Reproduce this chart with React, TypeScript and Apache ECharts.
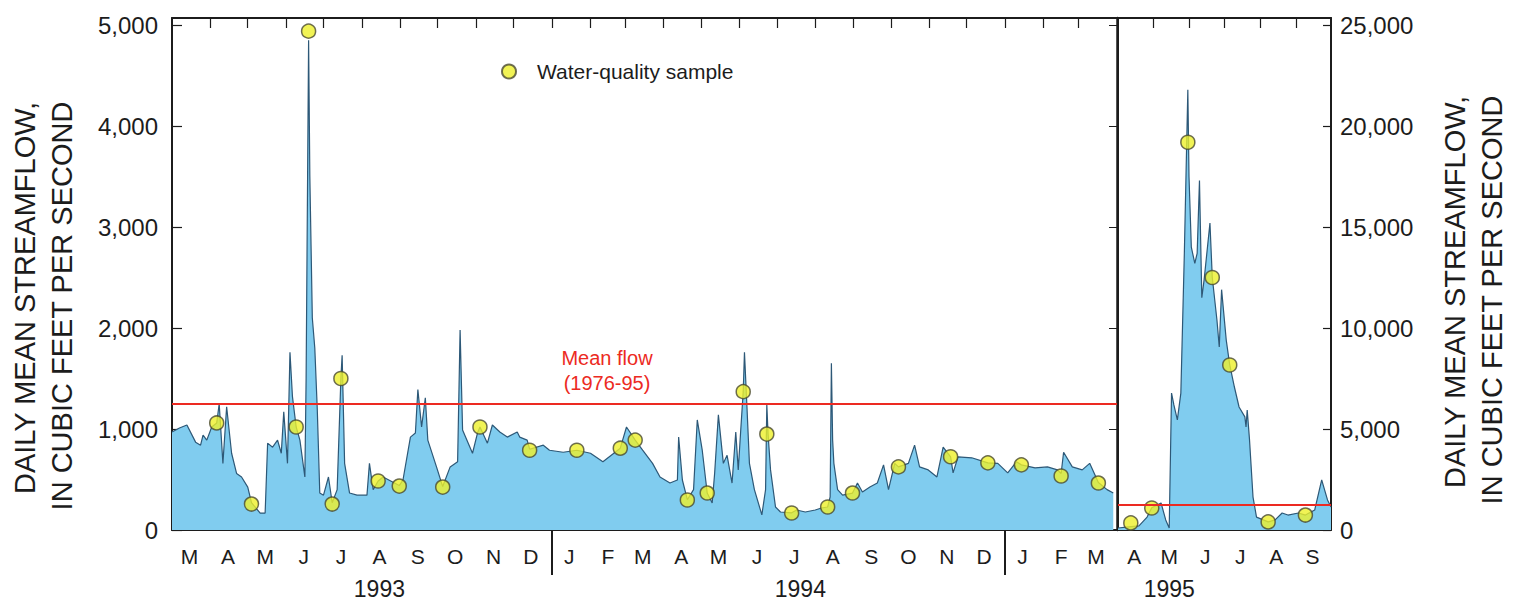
import React, { useEffect, useRef } from "react";
import * as echarts from "echarts";

const DAY = 86400000;
const LEFT_START = Date.UTC(1993, 2, 1);
const LEFT_END = Date.UTC(1995, 3, 1);
const RIGHT_START = Date.UTC(1995, 3, 1);
const RIGHT_END = Date.UTC(1995, 9, 1);

const MONTH_LETTERS = ["J", "F", "M", "A", "M", "J", "J", "A", "S", "O", "N", "D"];
const MEAN_FLOW = 1250;

// Daily mean streamflow, March 1993 – March 1995 (day = days since 1 March 1993, cfs)
const flow9395: [number, number][] = [
  [0, 970], [6, 1010], [12, 1040], [19, 870], [23, 840], [25, 940], [28, 890], [32, 1020], [36, 1060],
  [38, 1250], [41, 660], [44, 1220], [48, 760], [52, 560], [56, 525], [61, 425], [64, 270], [71, 168],
  [75, 168], [77, 860], [81, 820], [85, 890], [88, 760], [90, 1170], [93, 660], [95, 1760], [97, 1320],
  [100, 1020], [103, 890], [107, 525], [108, 1500], [110, 4850], [111, 3500], [113, 2100], [115, 1800],
  [117, 1190], [119, 366], [122, 345], [126, 525], [129, 270], [133, 400], [136, 1500], [137, 1730],
  [139, 660], [143, 366], [149, 345], [157, 345], [159, 660], [162, 400], [166, 485], [170, 525],
  [183, 440], [186, 495], [192, 920], [196, 960], [198, 1390], [201, 1020], [204, 1310], [206, 890],
  [213, 625], [218, 430], [224, 625], [230, 675], [232, 1980], [234, 990], [242, 760], [246, 960],
  [248, 1020], [254, 860], [258, 1040], [264, 970], [270, 920], [278, 970], [280, 920], [286, 890],
  [288, 800], [299, 840], [304, 790], [315, 770], [326, 790], [337, 760], [347, 675], [361, 810],
  [366, 1020], [373, 890], [379, 790], [387, 660], [393, 525], [401, 465], [407, 495], [408, 920],
  [411, 495], [415, 300], [420, 400], [423, 1090], [427, 790], [431, 366], [435, 267], [437, 565],
  [440, 1140], [444, 660], [447, 740], [451, 465], [454, 970], [456, 595], [458, 990], [460, 1370],
  [461, 1760], [463, 1220], [465, 660], [469, 400], [475, 150], [478, 400], [479, 1240], [480, 950],
  [482, 595], [486, 228], [490, 178], [499, 170], [503, 198], [510, 178], [518, 198], [523, 218],
  [528, 228], [530, 327], [531, 1650], [532, 890], [533, 660], [536, 400], [540, 345], [548, 366],
  [552, 465], [556, 376], [562, 425], [568, 465], [573, 645], [577, 400], [582, 660], [585, 625],
  [593, 660], [598, 840], [602, 625], [609, 595], [616, 525], [621, 820], [627, 725], [629, 565],
  [633, 725], [644, 715], [657, 665], [665, 660], [673, 565], [680, 675], [684, 645], [695, 615],
  [705, 625], [713, 595], [716, 560], [718, 770], [725, 625], [733, 595], [739, 660], [746, 470],
  [753, 400], [758, 366],
];

// Water-quality samples, 1993–95 (day since 1 March 1993, cfs)
const samples9395: [number, number][] = [
  [36, 1060], [64, 257], [100, 1020], [110, 4940], [129, 257], [136, 1500], [166, 485], [183, 435],
  [218, 425], [248, 1020], [288, 790], [326, 790], [361, 810], [373, 890], [415, 297], [431, 366],
  [460, 1370], [479, 950], [499, 168], [528, 228], [548, 366], [585, 625], [627, 725], [657, 665],
  [684, 645], [716, 535], [746, 465],
];

// Daily mean streamflow, April – September 1995 (day = days since 1 April 1995, cfs)
const flow1995: [number, number][] = [
  [0, 100], [9, 150], [18, 200], [25, 640], [29, 1100], [37, 1340], [41, 500], [44, 100], [46, 6780],
  [48, 6190], [51, 5450], [54, 6780], [57, 13700], [60, 21800], [61, 17500], [63, 14000], [66, 13200],
  [68, 13700], [70, 17300], [72, 11500], [74, 12400], [79, 15200], [81, 12500], [85, 10400], [87, 9060],
  [89, 11900], [93, 9400], [96, 8170], [100, 7080], [104, 6090], [109, 5600], [110, 5100], [111, 5940],
  [113, 4460], [116, 1630], [119, 640], [129, 400], [135, 500], [141, 840], [146, 740], [155, 840],
  [161, 740], [169, 990], [175, 2480], [180, 1490], [183, 1140],
];

// Water-quality samples, 1995 (day since 1 April 1995, cfs)
const samples1995: [number, number][] = [
  [11, 350], [29, 1090], [60, 19200], [81, 12500], [96, 8170], [129, 400], [161, 740],
];

// Year labels: [label date, text]
const yearLabelsLeft: [number, string][] = [
  [Date.UTC(1993, 7, 15), "1993"],
  [Date.UTC(1994, 6, 20), "1994"],
];
const yearLabelsRight: [number, string][] = [[Date.UTC(1995, 4, 15), "1995"]];
const yearBreaks = [Date.UTC(1994, 0, 1), Date.UTC(1995, 0, 1)];

const FONT = '"Liberation Sans", Arial, Helvetica, sans-serif';
const INK = "#1c1c1c";
const LINE = "#2d5877";
const FILL = "#80ccef";
const RED = "#ec2a22";

function monthPoints(y0: number, m0: number, y1: number, m1: number, day: number): number[] {
  const out: number[] = [];
  let y = y0;
  let m = m0;
  while (y < y1 || (y === y1 && m <= m1)) {
    out.push(Date.UTC(y, m, day));
    m++;
    if (m > 11) {
      m = 0;
      y++;
    }
  }
  return out;
}

const fmtThousands = (v: number) => v.toLocaleString("en-US");

export default function App() {
  const ref = useRef<HTMLDivElement>(null);

  useEffect(() => {
    if (!ref.current) return;
    const chart = echarts.init(ref.current, undefined, { renderer: "svg" });

    const leftTicks = monthPoints(1993, 3, 1995, 2, 1);
    const leftLabels = monthPoints(1993, 2, 1995, 2, 15);
    const rightTicks = monthPoints(1995, 4, 1995, 8, 1);
    const rightLabels = monthPoints(1995, 3, 1995, 8, 15);

    const monthAxis = (gridIndex: number, min: number, max: number, ticks: number[], labels: number[], position: string) => ({
      type: "value",
      gridIndex,
      min,
      max,
      position,
      axisLine: { show: true, onZero: false, lineStyle: { color: INK, width: 2 } },
      axisTick: { show: true, inside: true, length: 10, customValues: ticks, lineStyle: { color: INK, width: 1.2 } },
      axisLabel:
        position === "bottom"
          ? {
              show: true,
              customValues: labels,
              formatter: (v: number) => MONTH_LETTERS[new Date(v).getUTCMonth()],
              margin: 16,
              fontSize: 21,
              color: INK,
              fontFamily: FONT,
            }
          : { show: false },
      splitLine: { show: false },
    });

    const yearAxis = (gridIndex: number, min: number, max: number, labels: [number, string][], breaks: number[]) => ({
      type: "value",
      gridIndex,
      min,
      max,
      position: "bottom",
      axisLine: { show: false, onZero: false },
      axisTick: { show: breaks.length > 0, inside: false, length: 45, customValues: breaks.length ? breaks : [min], lineStyle: { color: INK, width: 2 } },
      axisLabel: {
        show: true,
        customValues: labels.map((l) => l[0]),
        formatter: (v: number) => {
          const hit = labels.find((l) => l[0] === v);
          return hit ? hit[1] : "";
        },
        margin: 47,
        fontSize: 23,
        color: INK,
        fontFamily: FONT,
      },
      splitLine: { show: false },
    });

    const meanLine = {
      silent: true,
      symbol: "none",
      label: { show: false },
      lineStyle: { color: RED, width: 2, type: "solid" },
      data: [{ yAxis: MEAN_FLOW }],
    };

    const sampleStyle = {
      color: "#eef02a",
      borderColor: "#4a4a30",
      borderWidth: 1.5,
    };

    const titleText = (x: number, y: number, text: string) => ({
      type: "text",
      x,
      y,
      rotation: Math.PI / 2,
      style: { text, fill: INK, font: `29px ${FONT}`, textAlign: "center", textVerticalAlign: "middle" },
    });

    const option: any = {
      animation: false,
      backgroundColor: "#ffffff",
      grid: [
        { left: 172, top: 18, width: 945, height: 512 },
        { left: 1118, top: 18, width: 213, height: 512 },
      ],
      legend: {
        data: ["Water-quality sample"],
        left: 496,
        top: 56,
        icon: "circle",
        itemWidth: 14,
        itemHeight: 14,
        textStyle: { fontSize: 21, color: INK, fontFamily: FONT, padding: [0, 0, 0, 16] },
        selectedMode: false,
      },
      xAxis: [
        monthAxis(0, LEFT_START, LEFT_END, leftTicks, leftLabels, "bottom"),
        yearAxis(0, LEFT_START, LEFT_END, yearLabelsLeft, yearBreaks),
        monthAxis(0, LEFT_START, LEFT_END, leftTicks, [], "top"),
        monthAxis(1, RIGHT_START, RIGHT_END, rightTicks, rightLabels, "bottom"),
        yearAxis(1, RIGHT_START, RIGHT_END, yearLabelsRight, []),
        monthAxis(1, RIGHT_START, RIGHT_END, rightTicks, [], "top"),
      ],
      yAxis: [
        {
          type: "value",
          gridIndex: 0,
          position: "left",
          min: 0,
          max: 5070,
          interval: 1000,
          axisLine: { show: true, lineStyle: { color: INK, width: 2 } },
          axisTick: { show: true, inside: true, length: 10, lineStyle: { color: INK, width: 1.2 } },
          axisLabel: { formatter: fmtThousands, showMaxLabel: false, margin: 14, fontSize: 24, color: INK, fontFamily: FONT },
          splitLine: { show: false },
        },
        {
          type: "value",
          gridIndex: 0,
          position: "right",
          min: 0,
          max: 5070,
          interval: 1000,
          axisLine: { show: true, lineStyle: { color: INK, width: 2.5 } },
          axisTick: { show: true, inside: true, length: 8, lineStyle: { color: INK, width: 1 } },
          axisLabel: { show: false },
          splitLine: { show: false },
        },
        {
          type: "value",
          gridIndex: 1,
          position: "right",
          min: 0,
          max: 25350,
          interval: 5000,
          axisLine: { show: true, lineStyle: { color: INK, width: 2 } },
          axisTick: { show: true, inside: true, length: 8, lineStyle: { color: INK, width: 1.2 } },
          axisLabel: { formatter: fmtThousands, showMaxLabel: false, margin: 9, fontSize: 24, color: INK, fontFamily: FONT },
          splitLine: { show: false },
        },
        {
          type: "value",
          gridIndex: 1,
          position: "left",
          min: 0,
          max: 25350,
          interval: 5000,
          axisLine: { show: true, lineStyle: { color: INK, width: 2 } },
          axisTick: { show: false },
          axisLabel: { show: false },
          splitLine: { show: false },
        },
      ],
      series: [
        {
          type: "line",
          name: "Streamflow 1993-95",
          xAxisIndex: 0,
          yAxisIndex: 0,
          showSymbol: false,
          symbol: "none",
          lineStyle: { color: LINE, width: 1.2 },
          areaStyle: { color: FILL, opacity: 1 },
          data: flow9395.map(([d, v]) => [LEFT_START + d * DAY, v]),
          markLine: meanLine,
          z: 2,
        },
        {
          type: "line",
          name: "Streamflow 1995",
          xAxisIndex: 3,
          yAxisIndex: 2,
          showSymbol: false,
          symbol: "none",
          lineStyle: { color: LINE, width: 1.2 },
          areaStyle: { color: FILL, opacity: 1 },
          data: flow1995.map(([d, v]) => [RIGHT_START + d * DAY, v]),
          markLine: meanLine,
          z: 2,
        },
        {
          type: "scatter",
          name: "Water-quality sample",
          xAxisIndex: 0,
          yAxisIndex: 0,
          symbol: "circle",
          symbolSize: 14,
          itemStyle: sampleStyle,
          data: samples9395.map(([d, v]) => [LEFT_START + d * DAY, v]),
          z: 4,
        },
        {
          type: "scatter",
          name: "Water-quality sample",
          xAxisIndex: 3,
          yAxisIndex: 2,
          symbol: "circle",
          symbolSize: 14,
          itemStyle: sampleStyle,
          data: samples1995.map(([d, v]) => [RIGHT_START + d * DAY, v]),
          z: 4,
        },
      ],
      graphic: [
        titleText(25, 298, "DAILY MEAN STREAMFLOW,"),
        titleText(62, 306, "IN CUBIC FEET PER SECOND"),
        titleText(1455, 292, "DAILY MEAN STREAMFLOW,"),
        titleText(1492, 300, "IN CUBIC FEET PER SECOND"),
        {
          type: "text",
          x: 607,
          y: 358,
          style: { text: "Mean flow", fill: RED, font: `20px ${FONT}`, textAlign: "center", textVerticalAlign: "middle" },
        },
        {
          type: "text",
          x: 607,
          y: 383,
          style: { text: "(1976-95)", fill: RED, font: `20px ${FONT}`, textAlign: "center", textVerticalAlign: "middle" },
        },
      ],
    };

    chart.setOption(option);
    return () => chart.dispose();
  }, []);

  return <div ref={ref} style={{ position: "absolute", left: 0, top: 0, width: 1518, height: 601 }} />;
}
